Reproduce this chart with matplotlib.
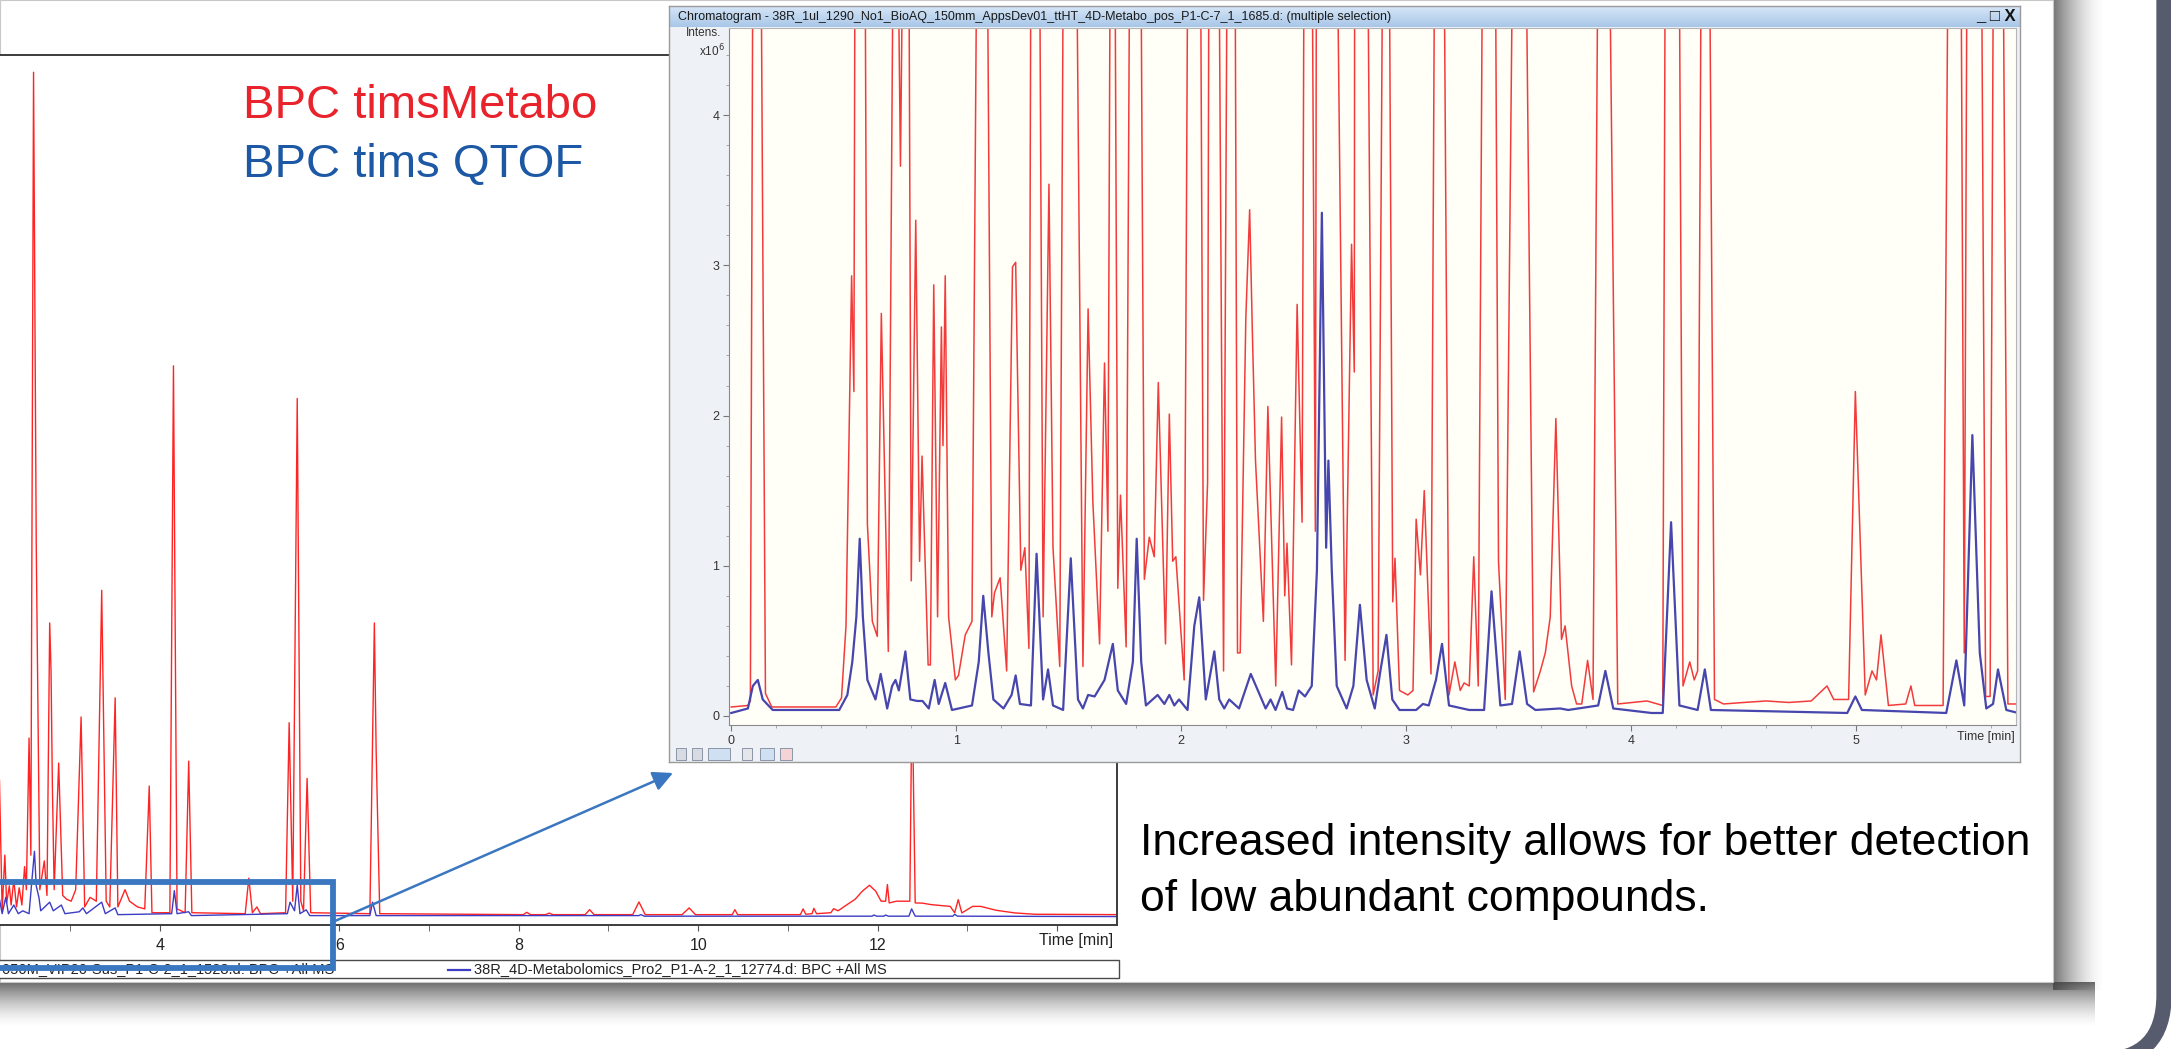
import numpy as np
import matplotlib
matplotlib.use("Agg")
import matplotlib.pyplot as plt
from matplotlib.patches import Rectangle, PathPatch
from matplotlib.path import Path

W, H = 2171, 1049
plt.rcParams['font.family'] = ['Liberation Sans', 'DejaVu Sans']

OFF = 7.0   # red peaks that run off the top of the zoomed window

# main chromatogram (time in min, intensity in 1e6 counts), visible part only
main_red_t = [2.21, 2.24, 2.27, 2.29, 2.32, 2.34, 2.37, 2.40, 2.43, 2.46, 2.49, 2.51,
              2.54, 2.56, 2.59, 2.60, 2.62, 2.66, 2.71, 2.74, 2.77, 2.785, 2.80, 2.82,
              2.87, 2.915, 2.96, 3.01, 3.06, 3.12, 3.16, 3.22, 3.29, 3.35, 3.40, 3.44,
              3.50, 3.53, 3.61, 3.66, 3.75, 3.83, 3.88, 3.91, 4.11, 4.15, 4.19, 4.28,
              4.32, 4.355, 4.95, 4.99, 5.03, 5.08, 5.12, 5.40, 5.44, 5.48, 5.53, 5.57,
              5.60, 5.64, 5.68, 6.34, 6.39, 6.41, 6.45, 8.05, 8.09, 8.13, 8.30, 8.34,
              8.38, 8.74, 8.79, 8.84, 9.27, 9.34, 9.41, 9.82, 9.90, 9.97, 10.38, 10.41,
              10.44, 11.14, 11.17, 11.20, 11.27, 11.29, 11.32, 11.48, 11.51, 11.56, 11.66,
              11.75, 11.83, 11.91, 11.98, 12.04, 12.09, 12.11, 12.13, 12.21, 12.36,
              12.385, 12.42, 12.50, 12.60, 12.81, 12.86, 12.90, 12.94, 13.06, 13.15,
              13.32, 13.53, 13.75, 14.67]
main_red_i = [7.1, 0.3, 3.2, 0.7, 1.6, 0.6, 1.9, 0.5, 1.5, 0.6, 2.6, 1.4,
              9.3, 3.2, 44.0, 35.8, 19.4, 1.4, 2.9, 1.1, 15.3, 12.8, 6.8, 1.4,
              8.0, 1.1, 0.9, 0.8, 1.4, 10.4, 0.5, 1.0, 0.8, 17.0, 0.8, 0.5,
              11.4, 0.5, 1.4, 0.8, 0.5, 0.4, 6.8, 0.2, 0.2, 28.7, 0.4, 0.2,
              8.1, 0.2, 0.15, 2.0, 0.2, 0.5, 0.15, 0.2, 10.1, 0.8, 27.0, 0.8,
              0.3, 7.2, 0.2, 0.15, 15.3, 8.6, 0.15, 0.1, 0.22, 0.1, 0.1, 0.18,
              0.1, 0.1, 0.36, 0.1, 0.1, 0.76, 0.1, 0.1, 0.45, 0.1, 0.1, 0.36,
              0.1, 0.1, 0.4, 0.12, 0.15, 0.43, 0.15, 0.2, 0.41, 0.3, 0.62,
              0.9, 1.32, 1.63, 1.32, 0.8, 0.8, 1.67, 0.71, 0.8, 0.8,
              12.0, 0.71, 0.7, 0.62, 0.53, 0.2, 0.88, 0.19, 0.53, 0.53,
              0.33, 0.19, 0.12, 0.1]

main_blue_t = [2.21, 2.24, 2.28, 2.31, 2.37, 2.42, 2.47, 2.54, 2.57, 2.60, 2.62, 2.65,
               2.67, 2.77, 2.81, 2.90, 2.94, 3.10, 3.14, 3.18, 3.35, 3.39, 3.50, 3.53,
               4.13, 4.16, 4.19, 4.32, 4.35, 5.42, 5.45, 5.50, 5.53, 5.56, 5.63, 5.67,
               6.34, 6.37, 6.41, 9.34, 9.36, 9.40, 11.94, 11.96, 11.99, 12.07, 12.09,
               12.12, 12.35, 12.38, 12.42, 12.84, 12.86, 12.89, 14.67]
main_blue_i = [0.9, 0.15, 1.0, 0.15, 0.6, 0.15, 0.3, 0.15, 1.8, 3.4, 1.6, 1.0,
               0.3, 0.75, 0.3, 0.6, 0.15, 0.25, 0.45, 0.15, 0.75, 0.15, 0.45, 0.1,
               0.15, 1.35, 0.15, 0.25, 0.05, 0.15, 0.75, 0.3, 1.65, 0.15, 0.35, 0.05,
               0.05, 0.75, 0.05, 0.05, 0.1, 0.02, 0.02, 0.08, 0.02, 0.02, 0.08,
               0.02, 0.02, 0.4, 0.02, 0.02, 0.12, 0.02, 0.0]

# zoomed window, 0 - 5.7 min
inset_red_t = [0.0, 0.074, 0.085, 0.10, 0.125, 0.152, 0.18, 0.465, 0.49, 0.51, 0.535, 0.545,
               0.553, 0.59, 0.605, 0.627, 0.649, 0.667, 0.698, 0.728, 0.752, 0.775, 0.785,
               0.80, 0.82, 0.837, 0.848, 0.875, 0.885, 0.90, 0.917, 0.934, 0.941, 0.951,
               0.966, 0.996, 1.01, 1.04, 1.07, 1.10, 1.13, 1.158, 1.17, 1.195, 1.224,
               1.25, 1.264, 1.287, 1.305, 1.323, 1.335, 1.364, 1.386, 1.412, 1.43, 1.46,
               1.482, 1.524, 1.563, 1.586, 1.607, 1.637, 1.659, 1.674, 1.689, 1.70, 1.718,
               1.73, 1.755, 1.777, 1.814, 1.836, 1.858, 1.88, 1.898, 1.93, 1.947, 1.962,
               1.976, 2.013, 2.035, 2.08, 2.099, 2.117, 2.126, 2.16, 2.188, 2.21, 2.235,
               2.25, 2.262, 2.287, 2.304, 2.316, 2.33, 2.365, 2.385, 2.42, 2.446, 2.46,
               2.47, 2.49, 2.515, 2.537, 2.55, 2.575, 2.596, 2.603, 2.68, 2.728, 2.757,
               2.769, 2.772, 2.82, 2.853, 2.875, 2.903, 2.918, 2.94, 2.95, 2.97, 3.007,
               3.03, 3.044, 3.063, 3.08, 3.11, 3.132, 3.16, 3.19, 3.216, 3.24, 3.257,
               3.28, 3.30, 3.32, 3.346, 3.39, 3.41, 3.44, 3.485, 3.52, 3.566, 3.596,
               3.618, 3.64, 3.665, 3.69, 3.706, 3.735, 3.757, 3.78, 3.806, 3.83, 3.86,
               3.89, 3.94, 4.07, 4.14, 4.155, 4.207, 4.23, 4.26, 4.28, 4.295, 4.317,
               4.34, 4.37, 4.41, 4.50, 4.60, 4.70, 4.80, 4.87, 4.90, 4.966, 4.996,
               5.04, 5.07, 5.09, 5.11, 5.143, 5.22, 5.243, 5.26, 5.386, 5.416, 5.46,
               5.48, 5.497, 5.55, 5.575, 5.595, 5.615, 5.645, 5.674, 5.72]
inset_red_i = [0.06, 0.07, 0.10, OFF, OFF, 0.15, 0.06, 0.06, 0.12, 0.6, 2.93, 2.16,
               OFF, OFF, 1.28, 0.63, 0.53, 2.68, 0.43, OFF, 3.66, OFF, OFF,
               0.9, 3.3, 1.03, 1.73, 0.34, 0.34, 2.87, 0.66, 2.59, 1.8, 2.93,
               0.66, 0.24, 0.27, 0.54, 0.63, OFF, OFF, 0.66, 0.82, 0.92, 0.3,
               2.99, 3.02, 0.97, 1.12, 0.45, OFF, OFF, 0.66, 3.54, 1.12, 0.33,
               OFF, OFF, 0.33, 2.71, 1.43, 0.48, 2.35, 1.23, OFF, OFF, 0.85,
               1.47, 0.46, OFF, OFF, 0.91, 1.19, 1.06, 2.22, 0.48, 2.01, 1.03,
               1.06, 0.24, OFF, OFF, 0.77, 1.55, OFF, OFF, 0.30, OFF, OFF,
               0.42, 0.42, 2.65, 3.37, 2.56, 1.70, 0.63, 2.06, 0.2, 1.99, 0.8,
               1.15, 0.34, 2.74, 1.29, OFF, OFF, 1.23, OFF, OFF, 0.37, 3.14,
               2.29, OFF, OFF, 0.14, 0.3, OFF, OFF, 0.76, 1.05, 0.17, 0.14,
               0.17, 1.31, 0.94, 1.5, 0.28, OFF, OFF, 0.14, 0.36, 0.17, 0.22,
               0.2, 1.06, 0.2, OFF, OFF, 1.03, 0.11, OFF, OFF, 0.16, 0.3,
               0.42, 0.66, 1.98, 0.51, 0.6, 0.2, 0.08, 0.08, 0.37, 0.11, OFF,
               OFF, 0.08, 0.1, 0.07, OFF, OFF, 0.2, 0.36, 0.24, 0.3, OFF,
               OFF, 0.11, 0.08, 0.09, 0.1, 0.09, 0.1, 0.2, 0.11, 0.11, 2.16,
               0.14, 0.3, 0.24, 0.54, 0.07, 0.08, 0.2, 0.07, 0.07, OFF, OFF,
               0.42, OFF, OFF, 0.13, 0.13, OFF, OFF, 0.08, 0.08]

inset_blue_t = [0.0, 0.074, 0.096, 0.118, 0.14, 0.184, 0.48, 0.516, 0.538, 0.556, 0.571,
                0.585, 0.605, 0.641, 0.664, 0.693, 0.715, 0.73, 0.745, 0.774, 0.796, 0.826,
                0.85, 0.878, 0.904, 0.922, 0.951, 0.981, 1.07, 1.10, 1.12, 1.143, 1.165,
                1.21, 1.246, 1.264, 1.283, 1.332, 1.357, 1.386, 1.408, 1.43, 1.475, 1.509,
                1.541, 1.563, 1.586, 1.615, 1.659, 1.696, 1.718, 1.755, 1.785, 1.802, 1.822,
                1.843, 1.895, 1.925, 1.947, 1.969, 1.99, 2.028, 2.058, 2.08, 2.109, 2.147,
                2.169, 2.191, 2.213, 2.257, 2.309, 2.375, 2.397, 2.419, 2.449, 2.47, 2.497,
                2.522, 2.55, 2.58, 2.603, 2.625, 2.644, 2.654, 2.669, 2.691, 2.735, 2.765,
                2.794, 2.824, 2.86, 2.885, 2.912, 2.938, 2.97, 3.044, 3.074, 3.10, 3.132,
                3.159, 3.19, 3.28, 3.346, 3.379, 3.418, 3.47, 3.504, 3.537, 3.574, 3.684,
                3.72, 3.853, 3.885, 3.92, 4.09, 4.14, 4.177, 4.214, 4.295, 4.327, 4.354,
                4.96, 4.996, 5.025, 5.40, 5.445, 5.48, 5.516, 5.549, 5.578, 5.608, 5.63,
                5.667, 5.72]
inset_blue_i = [0.02, 0.05, 0.2, 0.24, 0.11, 0.04, 0.04, 0.14, 0.36, 0.66, 1.18,
                0.66, 0.24, 0.11, 0.28, 0.05, 0.2, 0.24, 0.17, 0.43, 0.11, 0.10,
                0.10, 0.05, 0.24, 0.08, 0.22, 0.04, 0.07, 0.36, 0.80, 0.42, 0.11,
                0.05, 0.14, 0.27, 0.08, 0.07, 1.08, 0.11, 0.31, 0.07, 0.04, 1.05,
                0.11, 0.05, 0.14, 0.13, 0.24, 0.48, 0.17, 0.08, 0.36, 1.18, 0.36,
                0.07, 0.14, 0.08, 0.14, 0.07, 0.11, 0.04, 0.60, 0.79, 0.11, 0.43,
                0.11, 0.05, 0.11, 0.05, 0.28, 0.05, 0.11, 0.04, 0.16, 0.05, 0.04,
                0.17, 0.13, 0.2, 0.97, 3.35, 1.12, 1.7, 0.97, 0.2, 0.05, 0.2,
                0.74, 0.24, 0.05, 0.3, 0.54, 0.11, 0.04, 0.04, 0.08, 0.07, 0.24,
                0.48, 0.07, 0.04, 0.04, 0.83, 0.07, 0.08, 0.43, 0.08, 0.04, 0.05,
                0.04, 0.07, 0.30, 0.05, 0.02, 0.02, 1.29, 0.07, 0.04, 0.31, 0.04,
                0.02, 0.13, 0.04, 0.02, 0.37, 0.07, 1.87, 0.42, 0.05, 0.08, 0.31,
                0.04, 0.02]

main_ticks = [4, 6, 8, 10, 12, 14]
main_tick_labels = ['4', '6', '8', '10', '12', '']
inset_ticks = [0, 1, 2, 3, 4, 5]

RED = '#ff2424'
BLUE = '#3c3cc4'
HL = '#3b77c0'

fig = plt.figure(figsize=(W / 100, H / 100), dpi=100)
fig.patch.set_facecolor('white')


def box(x0, y0, x1, y1):
    # pixel box (y down) -> figure fraction rect
    return [x0 / W, 1 - y1 / H, (x1 - x0) / W, (y1 - y0) / H]


def fade(ax, extent, along, a0, n=80, z=1):
    a = a0 * np.linspace(1, 0, n) ** 1.6
    if along == 'x':
        arr = np.zeros((1, n, 4))
        arr[0, :, 3] = a
    else:
        arr = np.zeros((n, 1, 4))
        arr[:, 0, 3] = a
    arr[..., :3] = 0.22
    ax.imshow(arr, extent=extent, aspect='auto', interpolation='bilinear', zorder=z)


# --- slide background, panel shadow, dark frame on the right
bg = fig.add_axes([0, 0, 1, 1], zorder=0)
bg.axis('off')
fade(bg, (2053, 2105, 990, 0), 'x', 0.7)
fade(bg, (0, 2095, 1028, 982), 'y', 0.75)
bg.add_patch(Rectangle((0, 0), 2053, 982, fc='white', ec='#c8c8c8', lw=0.8, zorder=3))
frame = Path([(2164, -20), (2164, 995), (2164, 1060), (2100, 1060)],
             [Path.MOVETO, Path.LINETO, Path.CURVE3, Path.CURVE3])
bg.add_patch(PathPatch(frame, fc='none', ec='#565b6d', lw=11, zorder=4))
bg.set_xlim(0, W)
bg.set_ylim(H, 0)

# --- main chromatogram (left part is cut off by the slide)
ax = fig.add_axes(box(0, 55, 1117, 925), zorder=2)
ax.plot(main_red_t, main_red_i, color=RED, lw=1.0)
ax.plot(main_blue_t, main_blue_i, color=BLUE, lw=1.0)
ax.set_xlim(2.216, 14.67)
ax.set_ylim(-0.44, 44.9)
ax.set_xticks(main_ticks)
ax.set_xticklabels(main_tick_labels)
ax.set_xticks(np.arange(3, 14, 2), minor=True)
ax.tick_params(axis='x', which='both', direction='out', length=4, color='#555555',
               labelsize=11.5, pad=5, labelcolor='#222222')
ax.yaxis.set_visible(False)
ax.spines['left'].set_visible(False)
for s in ('top', 'right', 'bottom'):
    ax.spines[s].set_color('#3c3c3c')
    ax.spines[s].set_linewidth(1.4)

# --- zoomed chromatogram window
win = fig.add_axes(box(669, 6, 2020, 762), zorder=3)
win.set_xticks([])
win.set_yticks([])
win.set_facecolor('#eef1f5')
for s in win.spines.values():
    s.set_color('#9a9a9a')
    s.set_linewidth(1.0)
grad = np.linspace(0, 1, 40)[:, None]
tb = np.zeros((40, 1, 3))
tb[..., 0] = 0.84 - 0.18 * grad
tb[..., 1] = 0.90 - 0.12 * grad
tb[..., 2] = 0.97 - 0.06 * grad
win.imshow(tb, extent=(0, 1, 1 - 21 / 756, 1), aspect='auto', zorder=1)
win.set_xlim(0, 1)
win.set_ylim(0, 1)

ia = fig.add_axes(box(729, 28, 2016, 725), zorder=4)
ia.set_facecolor('#fffef7')
ia.plot(inset_red_t, inset_red_i, color='#f23c3c', lw=1.1)
ia.plot(inset_blue_t, inset_blue_i, color='#4646ae', lw=1.6)
ia.set_xlim(-0.01, 5.71)
ia.set_ylim(-0.06, 4.58)
ia.set_xticks(inset_ticks)
ia.set_xticks(np.arange(0, 5.7, 0.2), minor=True)
ia.set_yticks([0, 1, 2, 3, 4])
ia.set_yticks(np.arange(0, 4.6, 0.2), minor=True)
ia.tick_params(which='major', length=4, color='#777777', labelsize=9, labelcolor='#333333', pad=3)
ia.tick_params(which='minor', length=2, color='#999999')
for s in ('left', 'bottom'):
    ia.spines[s].set_color('#8a8a8a')
for s in ('top', 'right'):
    ia.spines[s].set_color('#b5b5b5')

# --- overlay: texts, legend strip, highlight box and arrow
top = fig.add_axes([0, 0, 1, 1], zorder=10)
top.set_xlim(0, W)
top.set_ylim(H, 0)
top.axis('off')
top.patch.set_alpha(0)

top.text(678, 17, 'Chromatogram - 38R_1ul_1290_No1_BioAQ_150mm_AppsDev01_ttHT_4D-Metabo_pos_'
         'P1-C-7_1_1685.d: (multiple selection)', fontsize=9, va='center', color='#1a1a1a')
top.text(2016, 16, '_ \u25a1 X', fontsize=12, ha='right', va='center', fontweight='bold',
         color='#111111')
top.text(704, 33, 'Intens.', fontsize=8.5, ha='center', va='center', color='#333333')
top.text(712, 51, 'x10$^6$', fontsize=8.5, ha='center', va='center', color='#333333')
top.text(2015, 737, 'Time [min]', fontsize=9, ha='right', va='center', color='#333333')
for x0, w, fc in [(676, 10, '#d8dce2'), (692, 10, '#d8dce2'), (708, 22, '#cfe0f2'),
                  (742, 10, '#e4e6ea'), (760, 14, '#cfe0f2'), (780, 12, '#f4d4d4')]:
    top.add_patch(Rectangle((x0, 748), w, 12, fc=fc, ec='#8a96a8', lw=0.7))

top.text(1113, 941, 'Time [min]', fontsize=11.5, ha='right', va='center', color='#222222')

top.add_patch(Rectangle((-5, 960), 1124, 18, fc='white', ec='#4a4a4a', lw=1.0, zorder=2))
top.text(2, 969.5, '050M_VIP20-Sus_P1-C-2_1_1528.d: BPC +All MS',
         fontsize=10.5, ha='left', va='center', color='#222222', zorder=3)
top.plot([448, 470], [969.5, 969.5], color=BLUE, lw=1.6, zorder=3)
top.text(474, 969.5, '38R_4D-Metabolomics_Pro2_P1-A-2_1_12774.d: BPC +All MS',
         fontsize=10.5, ha='left', va='center', color='#222222', zorder=3)

top.add_patch(Rectangle((-20, 882), 353, 86, fc='none', ec=HL, lw=4.2, zorder=5))
top.annotate('', xy=(673, 773), xytext=(335, 921),
             arrowprops=dict(arrowstyle='-|>', color=HL, lw=1.8, mutation_scale=30,
                             shrinkA=0, shrinkB=0), zorder=6)

top.text(243, 106, 'BPC timsMetabo', fontsize=34, color='#e8232b', va='center')
top.text(243, 165, 'BPC tims QTOF', fontsize=34, color='#1d58a4', va='center')
top.text(1140, 843, 'Increased intensity allows for better detection', fontsize=32,
         color='black', va='center')
top.text(1140, 900, 'of low abundant compounds.', fontsize=32, color='black', va='center')

fig.savefig('out.png', dpi=100)
